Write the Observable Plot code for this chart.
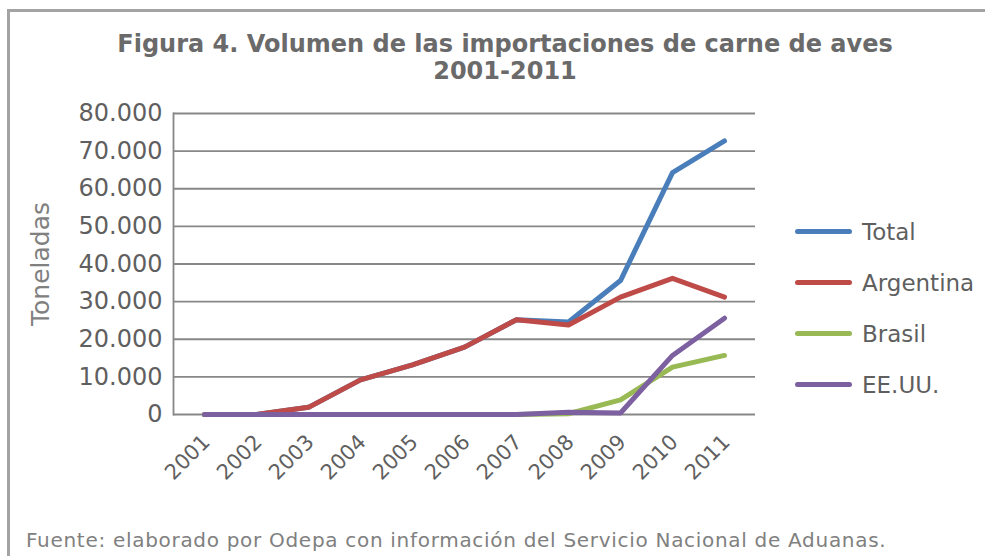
<!DOCTYPE html>
<html>
<head>
<meta charset="utf-8">
<script src="https://cdn.jsdelivr.net/npm/d3@7"></script>
<script src="https://cdn.jsdelivr.net/npm/@observablehq/plot@0.6"></script>
<style>
  html, body { margin: 0; padding: 0; background: #fff; }
  #wrap { position: relative; width: 985px; height: 556px; overflow: hidden; font-family: "DejaVu Sans", Verdana, sans-serif; }
  #frame { position: absolute; left: 7px; top: 9px; width: 1000px; height: 600px; border: 3px solid #a3a3a3; box-sizing: border-box; }
  #title { position: absolute; left: 8px; width: 994px; top: 31px; text-align: center; font-weight: bold; font-size: 24px; line-height: 27px; color: #6a6a6a; }
  #chart { position: absolute; left: 0; top: 0; }
  #foot { position: absolute; left: 26px; top: 528px; font-size: 20px; letter-spacing: 0.7px; color: #808080; white-space: nowrap; }
  #legend { position: absolute; left: 795px; top: 206px; }
  .item { display: flex; align-items: center; height: 51px; margin-top: 0; }
  .sw { width: 57px; height: 5px; border-radius: 3px; margin-right: 10px; }
  .lab { font-size: 23px; color: #5f5f5f; }
</style>
</head>
<body>
<div id="wrap">
  <div id="frame"></div>
  <div id="chart"></div>
  <div id="title">Figura 4. Volumen de las importaciones de carne de aves<br>2001-2011</div>
  <div id="legend"></div>
  <div id="foot">Fuente: elaborado por Odepa con información del Servicio Nacional de Aduanas.</div>
</div>
<script>
const years = ["2001","2002","2003","2004","2005","2006","2007","2008","2009","2010","2011"];
const series = ["Total","Argentina","Brasil","EE.UU."];
const colors = ["#4A7EBB","#BE4B48","#98B954","#7D60A0"];
const total     = [0, 0, 1900, 9200, 13200, 17900, 25200, 24600, 35600, 64300, 72700];
const argentina = [0, 0, 1900, 9200, 13200, 17900, 25200, 23800, 31200, 36200, 31200];
const brasil    = [0, 0, 0, 0, 0, 0, 0, 200, 3900, 12600, 15700];
const eeuu      = [0, 0, 0, 0, 0, 0, 0, 600, 400, 15700, 25600];
const yTicks = [0, 10000, 20000, 30000, 40000, 50000, 60000, 70000, 80000];
const yTitle = "Toneladas";

const valuesBySeries = [total, argentina, brasil, eeuu];
const data = [];
series.forEach((s, i) => years.forEach((y, j) => data.push({serie: s, year: y, value: valuesBySeries[i][j]})));

const fmt = d => d3.format(",")(d).replace(/,/g, ".");

const chart = Plot.plot({
  width: 985,
  height: 556,
  marginLeft: 173,
  marginRight: 230,
  marginTop: 113,
  marginBottom: 142,
  style: { fontFamily: "DejaVu Sans, Verdana, sans-serif", background: "transparent", overflow: "visible" },
  x: { type: "point", domain: years, padding: 0.5, label: null },
  y: { domain: [0, 80000], label: null },
  color: { domain: series, range: colors },
  marks: [
    Plot.gridY(yTicks, { stroke: "#878787", strokeOpacity: 1, strokeWidth: 1.8 }),
    Plot.frame({ anchor: "left", stroke: "#878787", strokeWidth: 1.8 }),
    Plot.axisY(yTicks, { tickFormat: fmt, tickSize: 0, tickPadding: 11, fontSize: 24, fill: "#5f5f5f", label: null }),
    Plot.axisX({ tickRotate: -45, tickSize: 0, tickPadding: 24, dx: 2, fontSize: 21, fill: "#5f5f5f", label: null }),
    Plot.text([yTitle], { frameAnchor: "left", textAnchor: "middle", dx: -133, rotate: -90, fontSize: 25, fill: "#808080" }),
    Plot.lineY(data, { x: "year", y: "value", z: "serie", stroke: "serie", strokeWidth: 5, strokeLinecap: "round", strokeLinejoin: "round" })
  ]
});
document.getElementById("chart").appendChild(chart);

const leg = document.getElementById("legend");
series.forEach((s, i) => {
  const it = document.createElement("div");
  it.className = "item";
  it.innerHTML = `<div class="sw" style="background:${colors[i]}"></div><span class="lab">${s}</span>`;
  leg.appendChild(it);
});
</script>
</body>
</html>
